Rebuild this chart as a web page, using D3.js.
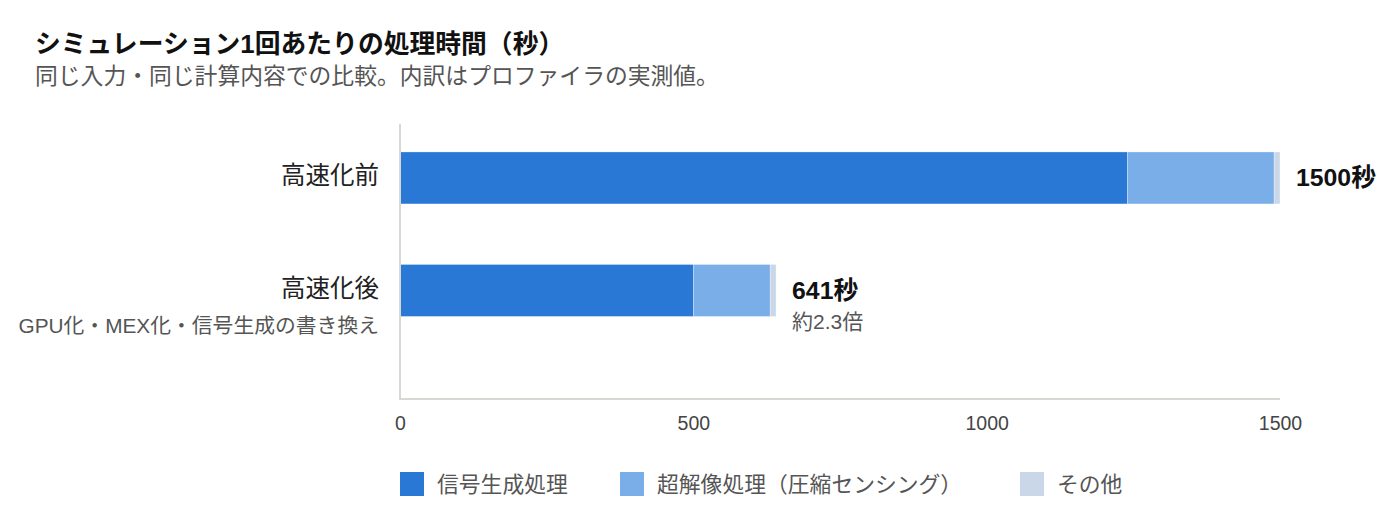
<!DOCTYPE html>
<html>
<head>
<meta charset="utf-8">
<script src="https://cdn.jsdelivr.net/npm/d3@7"></script>
<style>
  html, body { margin: 0; padding: 0; background: #fff; }
  svg { display: block; font-family: "Liberation Sans", Arial, "Noto Sans CJK JP", sans-serif; }
</style>
</head>
<body>
<svg id="chart" width="1400" height="520"></svg>
<script>
// ---- data ----
const titleText = "シミュレーション1回あたりの処理時間（秒）";
const subtitleText = "同じ入力・同じ計算内容での比較。内訳はプロファイラの実測値。";
const categories = ["高速化前", "高速化後"];
const categoryNotes = ["", "GPU化・MEX化・信号生成の書き換え"];
const seriesNames = ["信号生成処理", "超解像処理（圧縮センシング）", "その他"];
const signalGen = [1240, 500];
const superRes = [250, 131];
const other = [10, 10];
const tickValues = [0, 500, 1000, 1500];
const valueUnit = "秒";
const ratioNotes = ["", "約2.3倍"];

// ---- layout ----
const colors = ["#2a78d6", "#7aaee8", "#c9d7e8"];
const svg = d3.select("#chart");
const x = d3.scaleLinear().domain([0, 1500]).range([400, 1280]);
const y = d3.scaleBand().domain(categories).range([124, 399])
  .paddingInner(0.538).paddingOuter(0.491).align(0.253);

const rows = categories.map((c, i) => ({
  cat: c, note: categoryNotes[i],
  vals: [signalGen[i], superRes[i], other[i]],
  ratio: ratioNotes[i]
}));
rows.forEach(r => r.total = d3.sum(r.vals));

// title
svg.append("text").attr("x", 35).attr("y", 44).attr("dominant-baseline", "central")
  .attr("font-size", 25.8).attr("font-weight", "bold").attr("fill", "#111").text(titleText);
svg.append("text").attr("x", 35).attr("y", 76).attr("dominant-baseline", "central")
  .attr("font-size", 22.8).attr("fill", "#555").text(subtitleText);

// bars
const stackData = d3.stack().keys([0, 1, 2]).value((d, k) => d.vals[k])(rows);
svg.append("g").selectAll("g").data(stackData).join("g")
  .attr("fill", (d, i) => colors[i])
  .selectAll("rect").data(d => d.map(v => ({ v, cat: v.data.cat }))).join("rect")
  .attr("x", d => x(d.v[0]))
  .attr("width", d => x(d.v[1]) - x(d.v[0]))
  .attr("y", d => y(d.cat))
  .attr("height", y.bandwidth())
  .attr("stroke", "#ffffff").attr("stroke-width", 0.6).attr("stroke-opacity", 0.5);

// axes lines
const axisColor = "#d8d8d2";
svg.append("line").attr("x1", 400).attr("x2", 400).attr("y1", 124).attr("y2", 400)
  .attr("stroke", axisColor).attr("stroke-width", 2);
svg.append("line").attr("x1", 399).attr("x2", x(1500)).attr("y1", 399).attr("y2", 399)
  .attr("stroke", axisColor).attr("stroke-width", 2);

const xAxis = d3.axisBottom(x).tickValues(tickValues).tickSize(0).tickPadding(0)
  .tickFormat(d3.format("d"));
const gx = svg.append("g").attr("transform", "translate(0,423)").call(xAxis);
gx.select(".domain").remove();
gx.selectAll("text").attr("font-size", 19.5).attr("fill", "#444")
  .attr("dy", null).attr("dominant-baseline", "central")
  .attr("font-family", "Liberation Sans, Arial, sans-serif");

// category labels
const lab = svg.append("g");
rows.forEach(r => {
  const cy = y(r.cat) + y.bandwidth() / 2;
  lab.append("text").attr("x", 379).attr("y", cy - 2).attr("text-anchor", "end")
    .attr("dominant-baseline", "central").attr("font-size", 24.5).attr("fill", "#222").text(r.cat);
  if (r.note) {
    lab.append("text").attr("x", 379).attr("y", cy + 35).attr("text-anchor", "end")
      .attr("dominant-baseline", "central").attr("font-size", 20.8).attr("fill", "#555").text(r.note);
  }
  lab.append("text").attr("x", x(r.total) + 16).attr("y", cy).attr("dominant-baseline", "central")
    .attr("font-size", 24.8).attr("font-weight", "bold").attr("fill", "#111").text(r.total + valueUnit);
  if (r.ratio) {
    lab.append("text").attr("x", x(r.total) + 16).attr("y", cy + 31).attr("dominant-baseline", "central")
      .attr("font-size", 21).attr("fill", "#555").text(r.ratio);
  }
});

// legend
const legendX = [400, 620, 1020];
const lg = svg.append("g");
seriesNames.forEach((n, i) => {
  lg.append("rect").attr("x", legendX[i]).attr("y", 472).attr("width", 24).attr("height", 24)
    .attr("fill", colors[i]);
  lg.append("text").attr("x", legendX[i] + 37).attr("y", 484).attr("dominant-baseline", "central")
    .attr("font-size", 21.8).attr("fill", "#555").text(n);
});
</script>
</body>
</html>
